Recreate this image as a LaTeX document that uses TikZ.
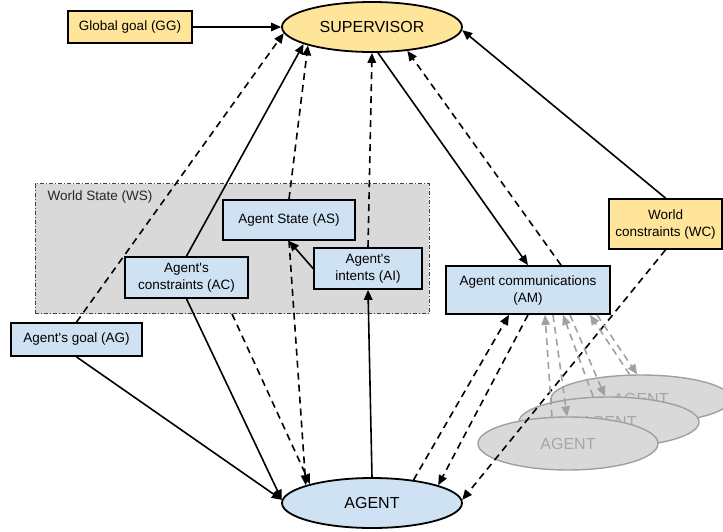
\documentclass[tikz,border=0pt]{standalone}
\usepackage{fontspec}
\setmainfont{Liberation Sans}[Ligatures=TeXOff]
\usetikzlibrary{arrows.meta, shapes.geometric}
\definecolor{boxblue}{HTML}{CFE2F3}
\definecolor{boxyellow}{HTML}{FFE599}
\definecolor{wsgrey}{HTML}{D9D9D9}
\definecolor{ghostline}{HTML}{A0A0A0}
\definecolor{ghosttext}{HTML}{A6A6A6}

\begin{document}
\begin{tikzpicture}[x=1pt, y=-1pt,
    box/.style={draw, line width=1.8pt, rectangle, inner sep=0pt, align=center, font=\fontsize{13.5}{17}\selectfont},
    bluebox/.style={box, fill=boxblue},
    yellowbox/.style={box, fill=boxyellow},
    actor/.style={draw, line width=1.8pt, ellipse, inner sep=0pt, minimum width=180pt, minimum height=50pt, font=\fontsize{16}{19}\selectfont},
    ghost/.style={draw=ghostline, line width=1.4pt, fill=wsgrey, ellipse, inner sep=0pt, minimum width=180pt, text=ghosttext, font=\fontsize{16}{19}\selectfont},
    flow/.style={line width=1.6pt, -{Triangle[length=10pt,width=8.5pt]}},
    info/.style={flow, dash pattern=on 7pt off 5pt},
    ghostinfo/.style={draw=ghostline, line width=1.6pt, dash pattern=on 7pt off 5pt, -{Triangle[length=10pt,width=8.5pt]}}]
  \useasboundingbox (0,0) rectangle (723,531);
  % World state area
  \node[draw=black!75, fill=wsgrey, line width=0.8pt, dash pattern=on 4pt off 2pt on 1pt off 2pt,
        minimum width=394pt, minimum height=130pt, inner sep=0pt] (WS) at (232,248.5) {};
  \node[anchor=west, text=black!85, font=\fontsize{13.5}{17}\selectfont] (WSlabel) at (44,197) {World State (WS)};
  % Supervisor side
  \node[yellowbox, minimum width=124pt, minimum height=32pt] (GG) at (130,27) {Global goal (GG)};
  \node[actor, fill=boxyellow] (SUP) at (372,27) {SUPERVISOR};
  \node[yellowbox, minimum width=113pt, minimum height=50pt] (WC) at (665.5,224) {World\\constraints (WC)};
  % Agent side
  \node[bluebox, minimum width=132pt, minimum height=40pt] (AS) at (289,220) {Agent State (AS)};
  \node[bluebox, minimum width=123pt, minimum height=41pt] (AC) at (186.5,277.5) {Agent's\\constraints (AC)};
  \node[bluebox, minimum width=108pt, minimum height=41pt] (AI) at (368,268.5) {Agent's\\intents (AI)};
  \node[bluebox, minimum width=131pt, minimum height=33pt] (AG) at (76.5,339.5) {Agent's goal (AG)};
  \node[bluebox, minimum width=164pt, minimum height=48pt] (AM) at (528,290) {Agent communications\\(AM)};
  \node[actor, fill=boxblue] (AGENT) at (372,503) {AGENT};
  % Other agents
  \node[ghost, minimum height=48pt] (G1) at (641,399) {AGENT};
  \node[ghost, minimum height=50pt] (G2) at (609,422) {AGENT};
  \node[ghost, minimum height=53pt] (G3) at (568,443.5) {AGENT};
  % Connectors
  \draw[flow] (GG) -- (SUP.west);
  \draw[info] (AG.north) -- (SUP.184);
  \draw[flow] (AG.south) -- (AGENT.178);
  \draw[flow] (AC.north) -- (SUP.194);
  \draw[flow] (AC.south) -- (AGENT.178);
  \draw[info] (WS.south) -- (AGENT.163);
  \draw[info] (AS.north) -- (SUP.196);
  \draw[info] (AS.south) -- (AGENT.165);
  \draw[flow] (AI.west) -- (AS.south);
  \draw[info] (AI.north) -- (SUP.south);
  \draw[flow] (AGENT.north) -- (AI.south);
  \draw[flow] (SUP.283) -- (AM.north);
  \draw[info] ([xshift=33pt]AM.north) -- (SUP.326);
  \draw[flow] (WC.north) -- (SUP.358);
  \draw[info] (WC.south) -- (AGENT.2);
  \draw[info] (AGENT.29) -- ([xshift=-19pt]AM.south);
  \draw[info] (AM.south) -- (AGENT.15);
  % Messages with the other agents
  \draw[ghostinfo] (G3.121) -- ([xshift=17pt]AM.south);
  \draw[ghostinfo] ([xshift=25pt]AM.south) -- (G3.92);
  \draw[ghostinfo] (G2.122) -- ([xshift=35pt]AM.south);
  \draw[ghostinfo] ([xshift=42pt]AM.south) -- (G2.99);
  \draw[ghostinfo] (G1.115) -- ([xshift=62pt]AM.south);
  \draw[ghostinfo] ([xshift=69pt]AM.south) -- (G1.99);
\end{tikzpicture}
\end{document}
